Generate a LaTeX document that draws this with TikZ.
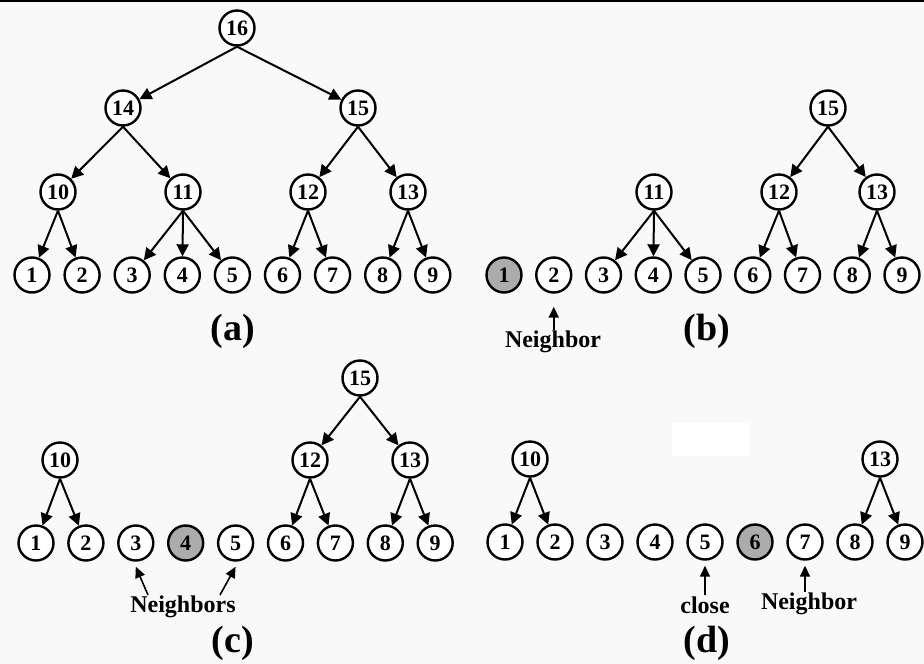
\documentclass[tikz,border=0pt]{standalone}
\usepackage{fontspec}
\setmainfont{Liberation Serif}
\usetikzlibrary{arrows.meta}
\definecolor{bgc}{RGB}{249,249,249}
\definecolor{hit}{RGB}{172,172,172}
\tikzset{
  vtx/.style={circle,draw=black,line width=2.4pt,fill=white,minimum size=35pt,inner sep=0pt,
    font=\fontsize{22}{22}\selectfont\bfseries},
  hl/.style={vtx,fill=hit},
  edge/.style={line width=2pt,-{Triangle[length=12pt,width=12pt]}},
  lbl/.style={font=\fontsize{24}{24}\selectfont\bfseries,inner sep=1pt},
  panelcap/.style={font=\fontsize{38}{38}\selectfont\bfseries,inner sep=0pt},
  ptr/.style={line width=1.6pt,-{Triangle[length=11pt,width=10pt]}}
}
\begin{document}
\begin{tikzpicture}[x=1pt,y=-1pt]
\fill[bgc] (0,0) rectangle (924,664);
\useasboundingbox (0,0) rectangle (924,664);
\fill[black] (0,0) rectangle (924,2);
\fill[white] (672,423) rectangle (749,456);
% ---------- (a)
\foreach \i in {1,...,9} \node[vtx] (a\i) at ({32+50.1*(\i-1)},275) {\i};
\node[vtx] (a16) at (237,28) {16};
\node[vtx] (a14) at (123,108) {14};
\node[vtx] (a15) at (358,108) {15};
\node[vtx] (a10) at (58,192) {10};
\node[vtx] (a11) at (183,192) {11};
\node[vtx] (a12) at (308,192) {12};
\node[vtx] (a13) at (408,192) {13};
\foreach \p/\c in {16/14,16/15,14/10,14/11,15/12,15/13,10/1,10/2,11/3,11/4,11/5,12/6,12/7,13/8,13/9}
  \draw[edge] (a\p.south) -- (a\c);
\node[panelcap] (capa) at (233,331) {(a)};
% ---------- (b)
\node[hl] (b1) at (504,275) {1};
\foreach \i in {2,...,9} \node[vtx] (b\i) at ({504+49.75*(\i-1)},275) {\i};
\node[vtx] (b15) at (828,108) {15};
\node[vtx] (b11) at (654,192) {11};
\node[vtx] (b12) at (779,192) {12};
\node[vtx] (b13) at (877,192) {13};
\foreach \p/\c in {15/12,15/13,11/3,11/4,11/5,12/6,12/7,13/8,13/9}
  \draw[edge] (b\p.south) -- (b\c);
\node[lbl] (nb) at (553,342) {Neighbor};
\draw[ptr] (nb.north -| b2) -- ([yshift=-13pt]b2.south);
\node[panelcap] (capb) at (707,331) {(b)};
% ---------- (c)
\foreach \i in {1,2,3,5,6,7,8,9} \node[vtx] (c\i) at ({36+49.9*(\i-1)},543) {\i};
\node[hl] (c4) at (185.7,543) {4};
\node[vtx] (c15) at (360,378) {15};
\node[vtx] (c10) at (60,460) {10};
\node[vtx] (c12) at (310,460) {12};
\node[vtx] (c13) at (410,460) {13};
\foreach \p/\c in {15/12,15/13,10/1,10/2,12/6,12/7,13/8,13/9}
  \draw[edge] (c\p.south) -- (c\c);
\node[lbl] (nc) at (183,607) {Neighbors};
\coordinate (ncl) at (148,595);
\coordinate (ncr) at (220,595);
\draw[ptr] (ncl) -- ([yshift=-5pt]c3.south);
\draw[ptr] (ncr) -- ([yshift=-5pt]c5.south);
\node[panelcap] (capc) at (233,643) {(c)};
% ---------- (d)
\foreach \i in {1,2,3,4,5,7,8,9} \node[vtx] (d\i) at ({505+50*(\i-1)},542) {\i};
\node[hl] (d6) at (755,542) {6};
\node[vtx] (d10) at (530,459) {10};
\node[vtx] (d13) at (880,459) {13};
\foreach \p/\c in {10/1,10/2,13/8,13/9}
  \draw[edge] (d\p.south) -- (d\c);
\node[lbl] (close) at (705,605) {close};
\node[lbl] (nd) at (809,604) {Neighbor};
\draw[ptr] (close.north -| d5) -- ([yshift=-5pt]d5.south);
\draw[ptr] (nd.north -| d7) -- ([yshift=-5pt]d7.south);
\node[panelcap] (capd) at (707,643) {(d)};
\end{tikzpicture}
\end{document}
